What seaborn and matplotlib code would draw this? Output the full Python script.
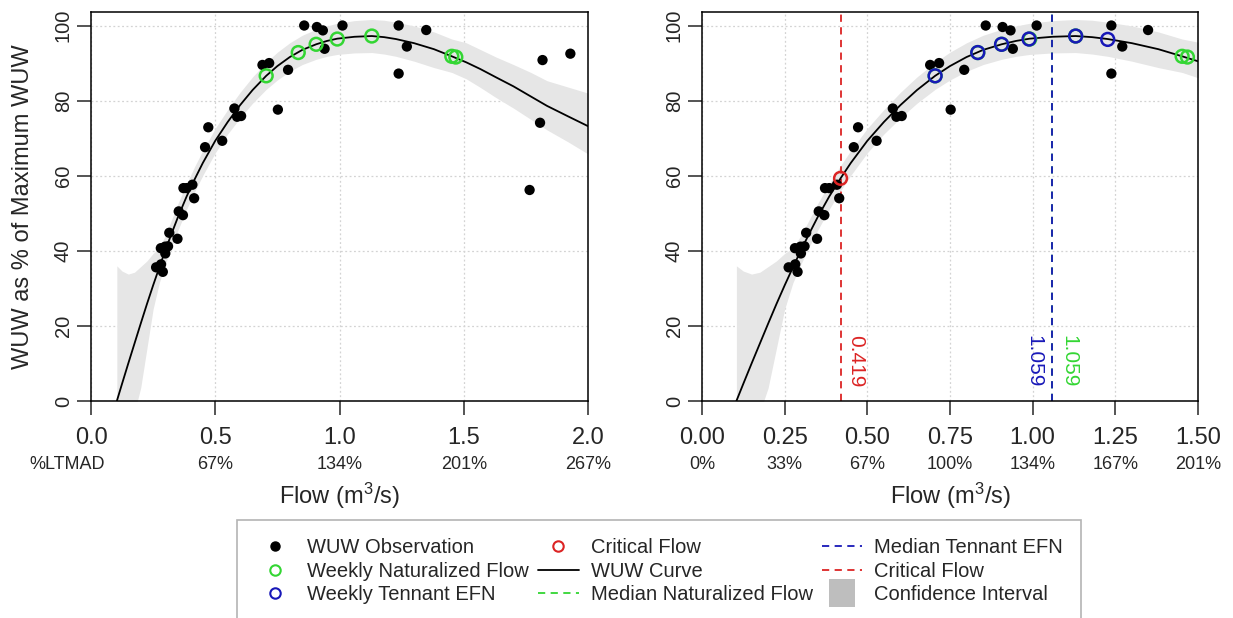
import matplotlib
matplotlib.use("Agg")
import matplotlib.pyplot as plt
import matplotlib.patches as mpatches
from matplotlib.lines import Line2D
from matplotlib.legend_handler import HandlerPatch
import seaborn as sns

# WUW observations (flow m3/s, WUW as % of max)
obs_flow = [0.858, 0.909, 0.933, 1.012, 1.238, 1.349, 0.940, 1.271, 1.238, 0.690,
            0.717, 0.793, 0.752, 0.577, 0.588, 0.604, 0.472, 0.459, 0.528, 0.372,
            0.385, 0.408, 0.415, 0.353, 0.370, 0.315, 0.348, 0.281, 0.298, 0.310,
            0.299, 0.262, 0.282, 0.289, 1.765, 1.807, 1.817, 1.929]
obs_wuw = [100.0, 99.6, 98.7, 100.0, 100.0, 98.8, 93.8, 94.4, 87.2, 89.5,
           90.0, 88.2, 77.6, 77.9, 75.7, 75.9, 72.9, 67.6, 69.3, 56.7,
           56.7, 57.6, 54.0, 50.5, 49.5, 44.8, 43.2, 40.7, 41.1, 41.2,
           39.3, 35.6, 36.4, 34.4, 56.2, 74.1, 90.8, 92.5]

# weekly naturalized flow and weekly Tennant EFN (on the curve)
nat_flow = [0.705, 0.834, 0.906, 0.991, 1.130, 1.452, 1.468]
nat_wuw = [86.6, 92.8, 95.0, 96.4, 97.2, 91.8, 91.6]
efn_flow = [0.705, 0.834, 0.906, 0.989, 1.130, 1.227]
efn_wuw = [86.6, 92.8, 95.0, 96.4, 97.2, 96.3]

critical_flow = 0.419
critical_wuw = 59.3
median_efn = 1.059
median_nat = 1.059

# fitted WUW curve and confidence band
curve_flow = [0.104, 0.125, 0.15, 0.175, 0.20, 0.225, 0.25, 0.275, 0.30, 0.325, 0.35,
              0.385, 0.419, 0.45, 0.50, 0.55, 0.60, 0.65, 0.705, 0.75, 0.80, 0.85,
              0.906, 0.95, 0.991, 1.06, 1.13, 1.18, 1.227, 1.30, 1.38, 1.452, 1.51,
              1.567, 1.63, 1.70, 1.77, 1.835, 1.92, 2.0]
curve_wuw = [0.0, 4.6, 10.0, 15.3, 20.6, 25.8, 30.8, 35.6, 40.3, 44.7, 49.0,
             54.5, 59.3, 63.4, 69.3, 74.3, 78.8, 82.8, 86.6, 89.2, 91.6, 93.5,
             95.0, 95.9, 96.5, 97.0, 97.2, 96.9, 96.4, 95.3, 93.7, 91.8, 90.2,
             88.4, 86.2, 83.8, 81.1, 78.6, 75.8, 73.2]
ci_lo = [-30.0, -18.0, -8.0, -3.0, 3.5, 14.0, 24.5, 31.5, 36.6, 41.2, 45.5,
         51.1, 56.0, 60.1, 66.1, 71.1, 75.4, 79.3, 83.0, 85.5, 87.8, 89.6,
         91.0, 91.8, 92.3, 92.7, 92.8, 92.4, 91.8, 90.5, 88.8, 87.5, 85.8,
         83.5, 80.8, 78.0, 75.0, 72.2, 69.0, 65.8]
ci_hi = [36.0, 34.6, 33.8, 34.3, 35.8, 37.3, 39.3, 40.8, 44.2, 48.4, 52.6,
         57.9, 62.7, 66.7, 72.6, 77.6, 82.2, 86.3, 90.2, 92.9, 95.4, 97.4,
         99.0, 99.9, 100.6, 101.3, 101.6, 101.4, 100.9, 99.9, 98.3, 96.4, 95.4,
         93.6, 91.6, 89.6, 87.5, 85.3, 83.6, 82.0]

# axis ticks and %LTMAD labels
left_ticks = [0.0, 0.5, 1.0, 1.5, 2.0]
left_pct = ["%LTMAD", "67%", "134%", "201%", "267%"]
right_ticks = [0.0, 0.25, 0.5, 0.75, 1.0, 1.25, 1.5]
right_pct = ["0%", "33%", "67%", "100%", "134%", "167%", "201%"]

GREEN = "#33d633"
BLUE = "#1818b8"
RED = "#dc2424"
BAND = "#e6e6e6"

sns.set_style("white")
plt.rcParams["font.family"] = ["Liberation Sans", "DejaVu Sans"]
plt.rcParams["mathtext.fontset"] = "custom"
plt.rcParams["mathtext.rm"] = "Liberation Sans"
plt.rcParams["mathtext.it"] = "Liberation Sans:italic"

W, H = 1233, 618
fig = plt.figure(figsize=(W / 100, H / 100), dpi=100)
ax1 = fig.add_axes([91 / W, 1 - 401 / H, 497 / W, 389 / H])
ax2 = fig.add_axes([702 / W, 1 - 401 / H, 496 / W, 389 / H])


def base_panel(ax, ticks, pct, xmax, pct_first_x=None):
    ax.fill_between(curve_flow, ci_lo, ci_hi, color=BAND, lw=0, zorder=1)
    sns.lineplot(x=curve_flow, y=curve_wuw, color="black", lw=1.3, sort=False,
                 errorbar=None, ax=ax, zorder=3)
    sns.scatterplot(x=obs_flow, y=obs_wuw, color="black", s=55, edgecolor="none",
                    ax=ax, zorder=4)
    ax.set_xlim(0, xmax)
    ax.set_ylim(0, 103.6)
    ax.set_xticks(ticks)
    ax.set_yticks([0, 20, 40, 60, 80, 100])
    ax.set_xticklabels([f"{t:.1f}" if xmax == 2.0 else f"{t:.2f}" for t in ticks])
    ax.grid(True, color="#d3d3d3", ls=(0, (1.5, 2)), lw=0.9)
    ax.set_axisbelow(True)
    for sp in ax.spines.values():
        sp.set_color("black")
        sp.set_linewidth(1.1)
    ax.tick_params(axis="x", direction="out", length=10, width=1.1, pad=9,
                   labelsize=17, bottom=True)
    ax.tick_params(axis="y", direction="out", length=10, width=1.1, pad=3,
                   labelsize=14.5, left=True, labelrotation=90)
    for lbl in ax.get_yticklabels():
        lbl.set_va("center")
    for i, (t, p) in enumerate(zip(ticks, pct)):
        xpos = pct_first_x if (i == 0 and pct_first_x is not None) else t
        ax.annotate(p, xy=(xpos, 0), xycoords=("data", "axes fraction"),
                    xytext=(0, -45.5), textcoords="offset points", ha="center",
                    va="center", fontsize=13, annotation_clip=False)
    ax.set_xlabel(r"Flow (m$^{3}$/s)", fontsize=17)
    ax.xaxis.set_label_coords(0.5, -0.205)
    ax.set_ylabel("")


# left panel
base_panel(ax1, left_ticks, left_pct, 2.0, pct_first_x=-0.098)
sns.scatterplot(x=nat_flow, y=nat_wuw, facecolor="none", edgecolor=GREEN,
                linewidth=1.8, s=85, ax=ax1, zorder=5)
ax1.set_ylabel("WUW as % of Maximum WUW", fontsize=17)
ax1.yaxis.set_label_coords(-0.115, 0.5)

# right panel
base_panel(ax2, right_ticks, right_pct, 1.5)
dash = (0, (4, 3))
ax2.axvline(median_nat, color=GREEN, ls=dash, lw=1.3, zorder=2)
ax2.axvline(median_efn, color=BLUE, ls=dash, lw=1.3, zorder=2)
ax2.axvline(critical_flow, color=RED, ls=dash, lw=1.3, zorder=2)
sns.scatterplot(x=nat_flow, y=nat_wuw, facecolor="none", edgecolor=GREEN,
                linewidth=1.8, s=85, ax=ax2, zorder=5)
sns.scatterplot(x=efn_flow, y=efn_wuw, facecolor="none", edgecolor=BLUE,
                linewidth=1.8, s=85, ax=ax2, zorder=6)
sns.scatterplot(x=[critical_flow], y=[critical_wuw], facecolor="none", edgecolor=RED,
                linewidth=1.8, s=85, ax=ax2, zorder=7)
ax2.text(critical_flow + 0.018, 3.7, f"{critical_flow:.3f}", rotation=-90, color=RED,
         fontsize=15, ha="left", va="bottom")
ax2.text(median_efn - 0.026, 3.7, f"{median_efn:.3f}", rotation=-90, color=BLUE,
         fontsize=15, ha="right", va="bottom")
ax2.text(median_nat + 0.021, 3.7, f"{median_nat:.3f}", rotation=-90, color=GREEN,
         fontsize=15, ha="left", va="bottom")


def tall_box(legend, orig_handle, xdescent, ydescent, width, height, fontsize):
    return mpatches.Rectangle((-xdescent + width * 0.18, -ydescent - height * 0.5),
                              width * 0.64, height * 2.0)


handles = [
    Line2D([], [], marker="o", color="black", ls="none", markersize=6.5),
    Line2D([], [], marker="o", mfc="none", mec=GREEN, mew=1.5, ls="none", markersize=7.5),
    Line2D([], [], marker="o", mfc="none", mec=BLUE, mew=1.5, ls="none", markersize=7.5),
    Line2D([], [], marker="o", mfc="none", mec=RED, mew=1.5, ls="none", markersize=7.5),
    Line2D([], [], color="black", lw=1.3),
    Line2D([], [], color=GREEN, lw=1.3, ls=dash),
    Line2D([], [], color=BLUE, lw=1.3, ls=dash),
    Line2D([], [], color=RED, lw=1.3, ls=dash),
    mpatches.Patch(facecolor="#bebebe", edgecolor="none"),
]
labels = ["WUW Observation", "Weekly Naturalized Flow", "Weekly Tennant EFN",
          "Critical Flow", "WUW Curve", "Median Naturalized Flow",
          "Median Tennant EFN", "Critical Flow", "Confidence Interval"]
leg = fig.legend(handles, labels, ncol=3, loc="upper left",
                 bbox_to_anchor=(237 / W, 1 - 520 / H), frameon=True, fancybox=False,
                 edgecolor="#b4b4b4", framealpha=1, fontsize=14.5, handlelength=2,
                 handletextpad=0.6, columnspacing=0.45, labelspacing=0.23,
                 borderpad=0.9, borderaxespad=0,
                 handler_map={mpatches.Patch: HandlerPatch(patch_func=tall_box)})
leg.get_frame().set_linewidth(1.2)

fig.savefig("out.png", dpi=100)
